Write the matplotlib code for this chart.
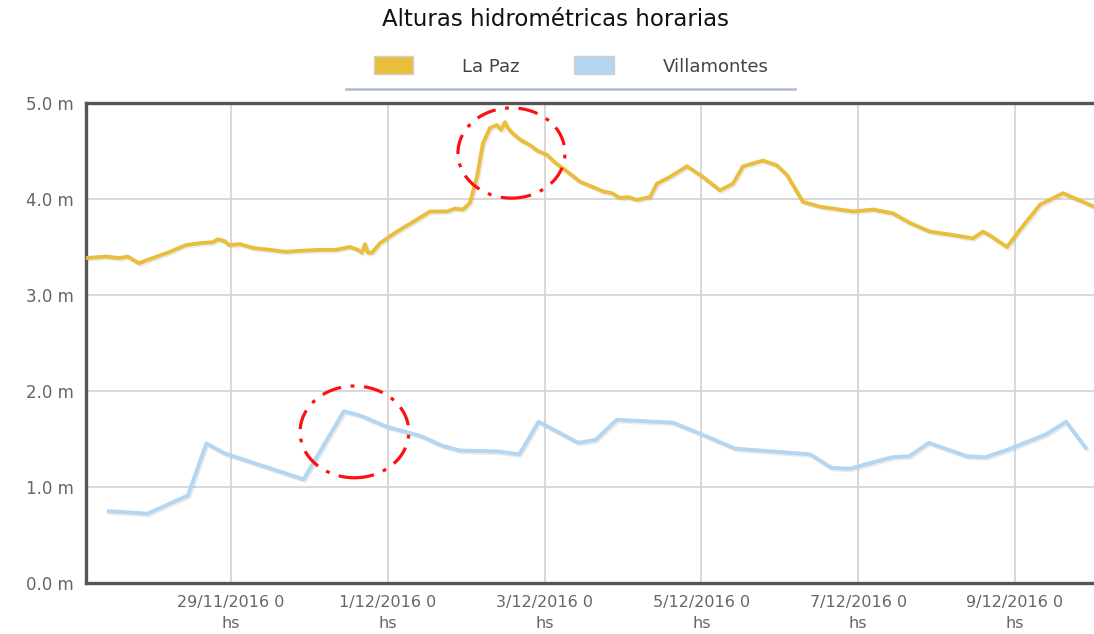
import matplotlib
matplotlib.use("Agg")
import matplotlib.pyplot as plt
from matplotlib.patches import Ellipse, Patch
from matplotlib.lines import Line2D
import matplotlib.patheffects as pe

# ---- data (x = days after 29/11/2016 0 hs) ----
lapaz_days = [-1.84, -1.594, -1.429, -1.314, -1.173, -1.084, -0.995, -0.778, -0.574, -0.395,
              -0.230, -0.166, -0.077, -0.026, 0.115, 0.281, 0.497, 0.702, 0.880, 1.122,
              1.339, 1.518, 1.620, 1.671, 1.709, 1.747, 1.798, 1.901, 2.117, 2.321,
              2.538, 2.755, 2.857, 2.959, 3.048, 3.138, 3.214, 3.304, 3.393, 3.444,
              3.495, 3.533, 3.584, 3.686, 3.814, 3.916, 4.031, 4.133, 4.235, 4.452,
              4.541, 4.745, 4.860, 4.962, 5.064, 5.179, 5.344, 5.434, 5.599, 5.816,
              6.020, 6.237, 6.403, 6.531, 6.786, 6.964, 7.092, 7.296, 7.513, 7.934,
              8.189, 8.444, 8.661, 8.916, 9.209, 9.464, 9.592, 9.681, 9.770, 9.898,
              10.064, 10.319, 10.612, 10.867, 11.008]
lapaz_m = [3.385, 3.40, 3.385, 3.40, 3.33, 3.36, 3.385, 3.45, 3.52, 3.54,
           3.55, 3.58, 3.56, 3.52, 3.53, 3.49, 3.47, 3.45, 3.46, 3.47,
           3.47, 3.50, 3.47, 3.44, 3.53, 3.44, 3.44, 3.54, 3.66, 3.76,
           3.87, 3.87, 3.90, 3.89, 3.96, 4.23, 4.58, 4.74, 4.77, 4.72,
           4.80, 4.74, 4.69, 4.62, 4.56, 4.50, 4.46, 4.38, 4.32, 4.18,
           4.15, 4.08, 4.06, 4.01, 4.02, 3.99, 4.02, 4.16, 4.23, 4.34,
           4.23, 4.09, 4.16, 4.34, 4.40, 4.35, 4.25, 3.97, 3.92, 3.87,
           3.89, 3.85, 3.75, 3.66, 3.625, 3.59, 3.66, 3.62, 3.57, 3.50,
           3.68, 3.94, 4.06, 3.97, 3.92]

villa_days = [-1.557, -1.065, -0.550, -0.313, -0.081, 0.926, 1.441, 1.664, 1.978, 2.425,
              2.694, 2.917, 3.409, 3.678, 3.924, 4.43, 4.65, 4.92, 5.64, 6.0,
              6.43, 7.39, 7.66, 7.89, 8.43, 8.65, 8.90, 9.39, 9.62, 9.91,
              10.40, 10.65, 10.90]
villa_m = [0.748, 0.723, 0.911, 1.454, 1.35, 1.08, 1.79, 1.74, 1.63, 1.53,
           1.43, 1.38, 1.37, 1.34, 1.68, 1.46, 1.49, 1.70, 1.67, 1.55,
           1.40, 1.34, 1.20, 1.19, 1.31, 1.32, 1.46, 1.32, 1.31, 1.39,
           1.55, 1.68, 1.41]

tick_days = [0, 2, 4, 6, 8, 10]
tick_labels = ["29/11/2016 0\nhs", "1/12/2016 0\nhs", "3/12/2016 0\nhs",
               "5/12/2016 0\nhs", "7/12/2016 0\nhs", "9/12/2016 0\nhs"]
y_ticks = [0, 1, 2, 3, 4, 5]
y_labels = ["0.0 m", "1.0 m", "2.0 m", "3.0 m", "4.0 m", "5.0 m"]

series_names = ["La Paz", "Villamontes"]
series_colors = ["#E9BE3D", "#B3D6F2"]

# highlight ellipses: (center_day, center_m, width_days, height_m)
highlights = [(3.578, 4.479, 1.365, 0.94), (1.575, 1.574, 1.387, 0.956)]

# ---- figure ----
W, H = 1094, 634
fig = plt.figure(figsize=(W / 100, H / 100), dpi=100)
ax = fig.add_axes([86 / W, 1 - 583 / H, (W - 86) / W, 480 / H])
ax.set_xlim(-1.849, 11.008)
ax.set_ylim(0, 5)

shadow = [pe.SimpleLineShadow(offset=(1, -1.2), shadow_color="#777777", alpha=0.15), pe.Normal()]
ax.plot(lapaz_days, lapaz_m, color=series_colors[0], lw=2.8, solid_joinstyle="round",
        path_effects=shadow, zorder=3)
ax.plot(villa_days, villa_m, color=series_colors[1], lw=2.8, solid_joinstyle="round",
        path_effects=shadow, zorder=3)

for cx, cy, w, h in highlights:
    e = Ellipse((cx, cy), w, h, fill=False, edgecolor="#FF1010", lw=2.3,
                linestyle=(0, (6.2, 3.0, 1.2, 3.0)), zorder=5)
    ax.add_patch(e)

ax.set_xticks(tick_days)
ax.set_xticklabels(tick_labels, color="#666666", fontsize=11.5, linespacing=1.45)
ax.set_yticks(y_ticks)
ax.set_yticklabels(y_labels, color="#666666", fontsize=12)
ax.tick_params(axis="both", length=0)
ax.tick_params(axis="x", pad=9)
ax.tick_params(axis="y", pad=9)
ax.grid(True, color="#D6D6D6", lw=1.3)
ax.set_axisbelow(True)

for s in ["left", "top", "bottom"]:
    ax.spines[s].set_color("#555555")
    ax.spines[s].set_linewidth(2.4)
ax.spines["right"].set_visible(False)

fig.text(556 / W, 1 - 20 / H, "Alturas hidrométricas horarias", ha="center", va="center",
         fontsize=16.5, color="#111111")

handles = [Patch(facecolor=c, edgecolor="#D0D0D0", lw=1.0) for c in series_colors]
leg = fig.legend(handles, series_names, loc="center", bbox_to_anchor=(571 / W, 1 - 66 / H),
                 ncol=2, frameon=False, fontsize=13, handlelength=2.2, handleheight=1.15,
                 handletextpad=2.7, columnspacing=3.0, labelcolor="#444444")
fig.add_artist(Line2D([346 / W, 795 / W], [1 - 89 / H, 1 - 89 / H], color="#AEB9D2", lw=1.8))

fig.savefig("out.png", dpi=100, facecolor="white")
